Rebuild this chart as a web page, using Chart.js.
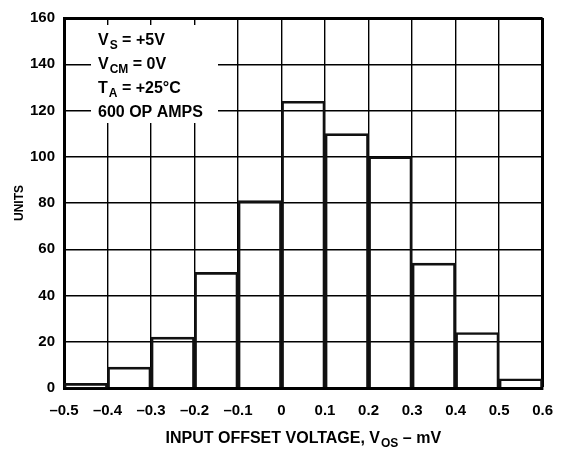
<!DOCTYPE html>
<html>
<head>
<meta charset="utf-8">
<script src="https://cdn.jsdelivr.net/npm/chart.js@4"></script>
<style>
    html, body { margin: 0; padding: 0; background: #fff; }
    #wrap { width: 567px; height: 453px; }
</style>
</head>
<body>
<div id="wrap"><canvas id="histChart"></canvas></div>
<script>
// bins are 0.1 mV wide, value = left edge
const binStarts = [-0.5, -0.4, -0.3, -0.2, -0.1, 0, 0.1, 0.2, 0.3, 0.4, 0.5];
const units = [2, 9, 22, 50, 81, 124, 110, 100, 54, 24, 4];
const binWidth = 0.1;

const xMin = -0.5, xMax = 0.6, xStep = 0.1;
const yMin = 0, yMax = 160, yStep = 20;

const noteLines = [
    ['V', 'S', ' = +5V'],
    ['V', 'CM', ' = 0V'],
    ['T', 'A', ' = +25°C'],
    ['600 OP AMPS', '', ''],
];

const FONT = '"Liberation Sans", Arial, Helvetica, sans-serif';

// text with a subscript part, drawn left to right
function drawSub(c, x, y, main, sub, rest, size) {
    c.font = 'bold ' + size + 'px ' + FONT;
    c.fillText(main, x, y);
    x += c.measureText(main).width;
    if (sub) {
        c.font = 'bold ' + Math.round(size * 0.72) + 'px ' + FONT;
        c.fillText(sub, x + 1, y + 4);
        x += c.measureText(sub).width + 1;
    }
    c.font = 'bold ' + size + 'px ' + FONT;
    c.fillText(rest, x, y);
    return x + c.measureText(rest).width;
}

function subWidth(c, main, sub, rest, size) {
    c.font = 'bold ' + size + 'px ' + FONT;
    let w = c.measureText(main).width + c.measureText(rest).width;
    c.font = 'bold ' + Math.round(size * 0.72) + 'px ' + FONT;
    return w + c.measureText(sub).width + 1;
}

const notesPlugin = {
    id: 'notes',
    afterDatasetsDraw(chart) {
        const c = chart.ctx;
        c.save();
        // white box cuts the grid behind the conditions text
        c.fillStyle = '#fff';
        c.fillRect(91, 25, 127, 98);
        c.fillStyle = '#000';
        c.textBaseline = 'alphabetic';
        c.textAlign = 'left';
        const baselines = [45, 69, 93, 117];
        noteLines.forEach((l, i) => {
            drawSub(c, 98, baselines[i], l[0], l[1], l[2], 16);
        });
        // x axis title
        const w = subWidth(c, 'INPUT OFFSET VOLTAGE, V', 'OS', ' – mV', 16);
        const cx = (chart.chartArea.left + chart.chartArea.right) / 2;
        drawSub(c, cx - w / 2, 443, 'INPUT OFFSET VOLTAGE, V', 'OS', ' – mV', 16);
        c.restore();
    }
};

const fmtX = (v) => {
    if (Math.abs(v) < 1e-9) return '0';
    return v.toFixed(1).replace('-', '–');
};

const ctx = document.getElementById('histChart');
new Chart(ctx, {
    type: 'bar',
    data: {
        datasets: [{
            label: 'Units',
            data: binStarts.map((s, i) => ({ x: s + binWidth / 2, y: units[i] })),
            backgroundColor: 'rgba(255,255,255,0)',
            borderColor: '#111',
            borderWidth: 2,
            barPercentage: 1,
            categoryPercentage: 1,
        }]
    },
    options: {
        responsive: true,
        maintainAspectRatio: false,
        animation: false,
        layout: {
            padding: { top: 7, right: 21, left: 0, bottom: 0 }
        },
        scales: {
            x: {
                type: 'linear',
                min: xMin,
                max: xMax,
                offset: false,
                afterFit: (scale) => { scale.height = 65; },
                afterBuildTicks: (scale) => {
                    const t = [];
                    for (let i = 0; i <= Math.round((xMax - xMin) / xStep); i++) {
                        t.push({ value: +(xMin + i * xStep).toFixed(2) });
                    }
                    scale.ticks = t;
                },
                border: { display: true, width: 3, color: '#000' },
                grid: {
                    offset: false,
                    drawTicks: false,
                    color: '#000',
                    lineWidth: (c) => (c.tick && Math.abs(c.tick.value - xMax) < 1e-6 ? 3 : 1.4),
                },
                ticks: {
                    padding: 14,
                    color: '#000',
                    maxRotation: 0,
                    autoSkip: false,
                    font: { size: 15, weight: 'bold', family: FONT },
                    callback: fmtX,
                },
            },
            y: {
                min: yMin,
                max: yMax,
                afterFit: (scale) => { scale.width = 64; },
                border: { display: true, width: 3, color: '#000' },
                grid: {
                    drawTicks: false,
                    color: '#000',
                    lineWidth: (c) => (c.tick && c.tick.value === yMax ? 3 : 1.4),
                },
                ticks: {
                    stepSize: yStep,
                    padding: 9,
                    color: '#000',
                    font: { size: 15, weight: 'bold', family: FONT },
                },
                title: {
                    display: true,
                    text: 'UNITS',
                    color: '#000',
                    padding: { top: 12, bottom: 0 },
                    font: { size: 12, weight: 'bold', family: FONT },
                },
            },
        },
        plugins: {
            legend: { display: false },
            tooltip: { enabled: false },
        }
    },
    plugins: [notesPlugin],
});
</script>
</body>
</html>
